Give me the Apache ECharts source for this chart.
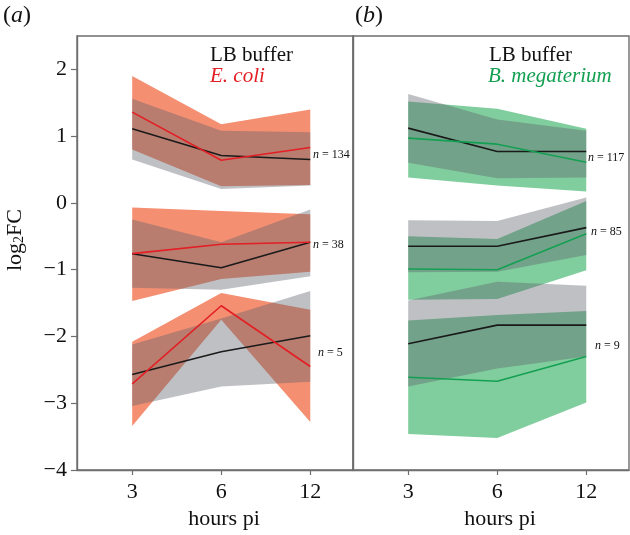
<!DOCTYPE html>
<html>
<head>
<meta charset="utf-8">
<script src="https://cdn.jsdelivr.net/npm/echarts@6/dist/echarts.min.js"></script>
<style>
  html, body { margin: 0; padding: 0; background: #fff; }
  #c1 { width: 630px; height: 535px; }
</style>
</head>
<body>
<div id="c1"></div>
<script>
const hours = ['3', '6', '12']
const yTicks = [-4, -3, -2, -1, 0, 1, 2]

// (a) E. coli against LB buffer
const ecoli134 = [1.36, 0.64, 0.83]
const ecoli134Lo = [0.80, 0.25, 0.27]
const ecoli134Hi = [1.90, 1.18, 1.40]
const lbA134 = [1.11, 0.71, 0.65]
const lbA134Lo = [0.65, 0.21, 0.26]
const lbA134Hi = [1.56, 1.08, 1.06]

const ecoli38 = [-0.76, -0.62, -0.59]
const ecoli38Lo = [-1.47, -1.14, -1.03]
const ecoli38Hi = [-0.07, -0.12, -0.17]
const lbA38 = [-0.76, -0.97, -0.59]
const lbA38Lo = [-1.27, -1.30, -1.10]
const lbA38Hi = [-0.25, -0.59, -0.10]

const ecoli5 = [-2.71, -1.54, -2.45]
const ecoli5Lo = [-3.34, -1.75, -3.28]
const ecoli5Hi = [-2.08, -1.35, -1.60]
const lbA5 = [-2.57, -2.23, -1.99]
const lbA5Lo = [-3.04, -2.75, -2.68]
const lbA5Hi = [-2.12, -1.73, -1.32]

// (b) B. megaterium against LB buffer
const bmeg117 = [0.97, 0.88, 0.61]
const bmeg117Lo = [0.38, 0.26, 0.17]
const bmeg117Hi = [1.52, 1.41, 1.11]
const lbB117 = [1.12, 0.77, 0.77]
const lbB117Lo = [0.60, 0.37, 0.38]
const lbB117Hi = [1.63, 1.25, 1.08]

const bmeg85 = [-0.99, -1.00, -0.46]
const bmeg85Lo = [-1.45, -1.44, -1.01]
const bmeg85Hi = [-0.50, -0.54, 0.03]
const lbB85 = [-0.65, -0.65, -0.37]
const lbB85Lo = [-1.04, -1.03, -0.78]
const lbB85Hi = [-0.26, -0.27, 0.08]

const bmeg9 = [-2.61, -2.67, -2.30]
const bmeg9Lo = [-3.46, -3.52, -2.99]
const bmeg9Hi = [-1.76, -1.68, -1.62]
const lbB9 = [-2.11, -1.83, -1.83]
const lbB9Lo = [-2.75, -2.48, -2.30]
const lbB9Hi = [-1.46, -1.18, -1.24]

const FONT = 'Liberation Serif'
const AXIS = '#6e6e6e'
const ORANGE = '#F48F72'
const GREEN = '#80CD9E'
const GRAY = 'rgba(96,98,108,0.4)'
const RED = '#E31E24'
const DKGREEN = '#14A052'

const pts = vals => vals.map((v, i) => [i, v])

// shaded range: one polygon per band, drawn through the axis scales
function band(idx, lo, hi, color, z) {
  return {
    type: 'custom', xAxisIndex: idx, yAxisIndex: idx, z: z, silent: true,
    data: lo.map((v, i) => [i, v, hi[i]]),
    encode: { x: 0, y: [1, 2] },
    renderItem: (params, api) => {
      if (params.dataIndex !== 0) return null
      const top = hi.map((v, i) => api.coord([i, v]))
      const bottom = lo.map((v, i) => api.coord([i, v])).reverse()
      return {
        type: 'polygon',
        shape: { points: top.concat(bottom) },
        style: { fill: color }
      }
    }
  }
}
function line(idx, vals, color) {
  return {
    type: 'line', xAxisIndex: idx, yAxisIndex: idx, z: 5,
    data: pts(vals), symbol: 'none', lineStyle: { color: color, width: 1.6 }, silent: true
  }
}

const series = [
  band(0, ecoli134Lo, ecoli134Hi, ORANGE, 1),
  band(0, ecoli38Lo, ecoli38Hi, ORANGE, 1),
  band(0, ecoli5Lo, ecoli5Hi, ORANGE, 1),
  band(0, lbA134Lo, lbA134Hi, GRAY, 2),
  band(0, lbA38Lo, lbA38Hi, GRAY, 2),
  band(0, lbA5Lo, lbA5Hi, GRAY, 2),
  band(1, bmeg117Lo, bmeg117Hi, GREEN, 1),
  band(1, bmeg85Lo, bmeg85Hi, GREEN, 1),
  band(1, bmeg9Lo, bmeg9Hi, GREEN, 1),
  band(1, lbB117Lo, lbB117Hi, GRAY, 2),
  band(1, lbB85Lo, lbB85Hi, GRAY, 2),
  band(1, lbB9Lo, lbB9Hi, GRAY, 2),
  line(0, lbA134, '#1a1a1a'), line(0, lbA38, '#1a1a1a'), line(0, lbA5, '#1a1a1a'),
  line(0, ecoli134, RED), line(0, ecoli38, RED), line(0, ecoli5, RED),
  line(1, lbB117, '#1a1a1a'), line(1, lbB85, '#1a1a1a'), line(1, lbB9, '#1a1a1a'),
  line(1, bmeg117, DKGREEN), line(1, bmeg85, DKGREEN), line(1, bmeg9, DKGREEN)
]

function xAxis(idx) {
  return {
    type: 'value', gridIndex: idx, min: -0.62, max: 2.48,
    splitLine: { show: false },
    axisLine: { onZero: false, lineStyle: { color: AXIS, width: 1.4 } },
    axisTick: { customValues: [0, 1, 2], length: 5, lineStyle: { color: AXIS, width: 1.2 } },
    axisLabel: {
      customValues: [0, 1, 2], formatter: v => hours[v], margin: 11,
      color: '#111', fontFamily: FONT, fontSize: 22
    },
    name: 'hours pi', nameLocation: 'middle', nameGap: 38,
    nameTextStyle: { color: '#111', fontFamily: FONT, fontSize: 22, padding: [0, 0, 0, 18] }
  }
}
function yAxis(idx) {
  return {
    type: 'value', gridIndex: idx, min: -4, max: 2.5,
    splitLine: { show: false },
    axisLine: { show: true, onZero: false, lineStyle: { color: AXIS, width: 1.4 } },
    axisTick: { show: idx === 0, customValues: yTicks, length: 6, lineStyle: { color: AXIS, width: 1.2 } },
    axisLabel: {
      show: idx === 0, customValues: yTicks, margin: 10,
      formatter: v => String(v).replace('-', '\u2212'),
      color: '#111', fontFamily: FONT, fontSize: 22
    }
  }
}

function txt(x, y, rich, extra) {
  return Object.assign({
    type: 'text', x: x, y: y, silent: true, z: 10,
    style: Object.assign({ fontFamily: FONT, fontSize: 22, fill: '#111', verticalAlign: 'middle' }, rich)
  }, extra || {})
}
function nLabel(x, y, n) {
  return txt(x, y, {
    text: '{i|n} = ' + n, fontSize: 12, align: 'left',
    rich: { i: { fontStyle: 'italic', fontFamily: FONT, fontSize: 12, fill: '#111' } }
  })
}
const italic24 = { i: { fontStyle: 'italic', fontFamily: FONT, fontSize: 24, fill: '#111' } }

const chart = echarts.init(document.getElementById('c1'))
chart.setOption({
  animation: false,
  grid: [
    { left: 77, top: 36, width: 276, height: 441, show: true, borderColor: AXIS, borderWidth: 1.4 },
    { left: 353, top: 36, width: 276, height: 441, show: true, borderColor: AXIS, borderWidth: 1.4 }
  ],
  xAxis: [xAxis(0), xAxis(1)],
  yAxis: [yAxis(0), yAxis(1)],
  series: series,
  graphic: [
    txt(3, 16, { text: '({i|a})', fontSize: 24, rich: italic24 }),
    txt(355, 16, { text: '({i|b})', fontSize: 24, rich: italic24 }),
    txt(210, 55, { text: 'LB buffer', fontSize: 21 }),
    txt(210, 76, { text: 'E. coli', fontSize: 21, fontStyle: 'italic', fill: RED }),
    txt(489, 55, { text: 'LB buffer', fontSize: 21 }),
    txt(488, 76, { text: 'B. megaterium', fontSize: 21, fontStyle: 'italic', fill: DKGREEN }),
    txt(15, 240, {
      text: 'log{s|2}FC', align: 'center',
      rich: { s: { fontFamily: FONT, fontSize: 14, fill: '#111', verticalAlign: 'bottom', lineHeight: 14 } }
    }, { rotation: Math.PI / 2 }),
    nLabel(313, 155, 134),
    nLabel(313, 245, 38),
    nLabel(318, 353, 5),
    nLabel(588, 158, 117),
    nLabel(591, 232, 85),
    nLabel(595, 346, 9)
  ]
})
</script>
</body>
</html>
